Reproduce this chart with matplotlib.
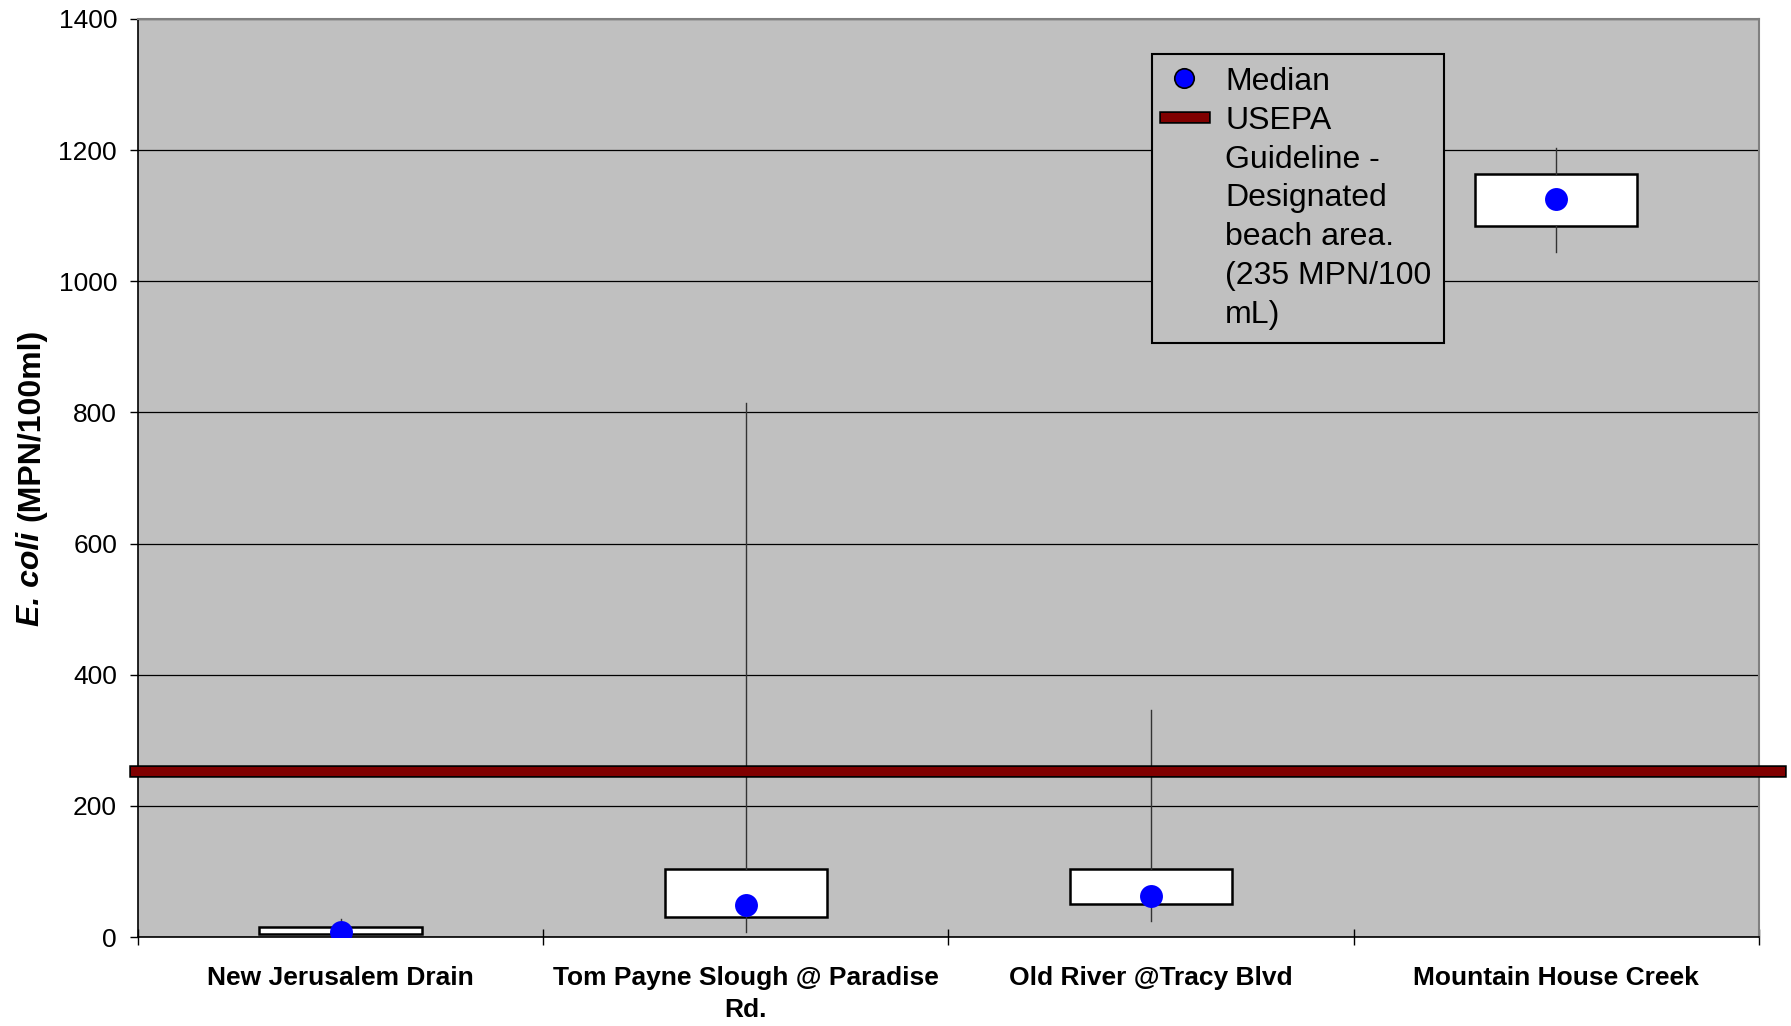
import matplotlib
matplotlib.use("Agg")
import matplotlib.pyplot as plt
import matplotlib.patheffects as pe
from matplotlib.lines import Line2D

plt.rcParams['font.family'] = ['Liberation Sans', 'DejaVu Sans']

# data
sites = ['New Jerusalem Drain', 'Tom Payne Slough @ Paradise\nRd.',
         'Old River @Tracy Blvd', 'Mountain House Creek']
mins = [0, 7, 25, 1045]
q1 = [4, 30, 51, 1085]
medians = [7, 49, 62, 1125]
q3 = [16, 104, 104, 1163]
maxs = [27, 815, 346, 1203]
guideline = 253
yticks = [0, 200, 400, 600, 800, 1000, 1200, 1400]
legend_lines = ['Median', 'USEPA', 'Guideline -', 'Designated',
                'beach area.', '(235 MPN/100', 'mL)']

fig = plt.figure(figsize=(17.91, 10.26), dpi=100)
ax = fig.add_axes([0.077, 0.0867, 0.905, 0.8948])
ax.set_facecolor('#C0C0C0')

pos = list(range(len(sites)))
stats = []
for i in pos:
    stats.append(dict(med=medians[i], q1=q1[i], q3=q3[i],
                      whislo=mins[i], whishi=maxs[i], fliers=[]))

ax.bxp(stats, positions=pos, widths=0.4, patch_artist=True,
       showcaps=False, showfliers=False,
       boxprops=dict(facecolor='white', edgecolor='black', linewidth=1.8),
       whiskerprops=dict(color='#333333', linewidth=1.0),
       medianprops=dict(linewidth=0), zorder=3)

ax.plot(pos, medians, linestyle='none', marker='o', markersize=16.5,
        color='#0000FF', markeredgewidth=0, zorder=5)

red_fx = [pe.Stroke(linewidth=9, foreground='black'), pe.Normal()]
ax.axhline(guideline, xmin=-0.002, xmax=1.013, color='#800000', linewidth=6.5,
           clip_on=False, zorder=4, path_effects=red_fx)

ax.set_xlim(-0.5, len(sites) - 0.5)
ax.set_ylim(0, 1400)
ax.set_yticks(yticks)
ax.set_yticklabels([str(v) for v in yticks], fontsize=19)
ax.tick_params(axis='y', direction='out', length=6, width=1, pad=9)
ax.yaxis.grid(True, color='black', linewidth=0.9)
ax.set_axisbelow(True)

# category boundaries as major ticks, names centred as minor ticks
ax.set_xticks([p - 0.5 for p in pos] + [len(sites) - 0.5])
ax.set_xticklabels([])
ax.set_xticks(pos, minor=True)
ax.set_xticklabels(sites, minor=True, fontsize=19, fontweight='bold',
                   linespacing=1.4)
ax.tick_params(axis='x', which='major', direction='inout', length=12, width=1)
ax.tick_params(axis='x', which='minor', length=0, pad=21)

for s in ['left', 'bottom']:
    ax.spines[s].set_color('black')
    ax.spines[s].set_linewidth(1.2)
for s in ['top', 'right']:
    ax.spines[s].set_color('#808080')
    ax.spines[s].set_linewidth(1.5)

# y label: italic species name followed by the unit
t1 = fig.text(31 / 1791, 1 - 626 / 1026, 'E. coli', rotation=90, ha='center',
              va='bottom', fontsize=23, fontweight='bold', style='italic')
ax.annotate('(MPN/100ml)', xy=(0.5, 1), xycoords=t1, xytext=(0, 8),
            textcoords='offset points', rotation=90, ha='center', va='bottom',
            fontsize=23, fontweight='bold')

# legend, wrapped the way the original shows it
handles = [Line2D([], [], linestyle='none', marker='o', markersize=14,
                  markerfacecolor='#0000FF', markeredgecolor='black',
                  markeredgewidth=1.2),
           Line2D([], [], color='#800000', linewidth=6.5, path_effects=red_fx)]
for _ in legend_lines[2:]:
    handles.append(Line2D([], [], linestyle='none'))
leg = ax.legend(handles, legend_lines, loc='upper left',
                bbox_to_anchor=(0.6255, 0.962), borderaxespad=0,
                fontsize=23, labelspacing=0.28, handlelength=1.25,
                handletextpad=0.65, borderpad=0.4, fancybox=False,
                frameon=True, facecolor='#C0C0C0', edgecolor='black',
                framealpha=1)
leg.get_frame().set_linewidth(1.5)

fig.savefig('out.png', dpi=100)
